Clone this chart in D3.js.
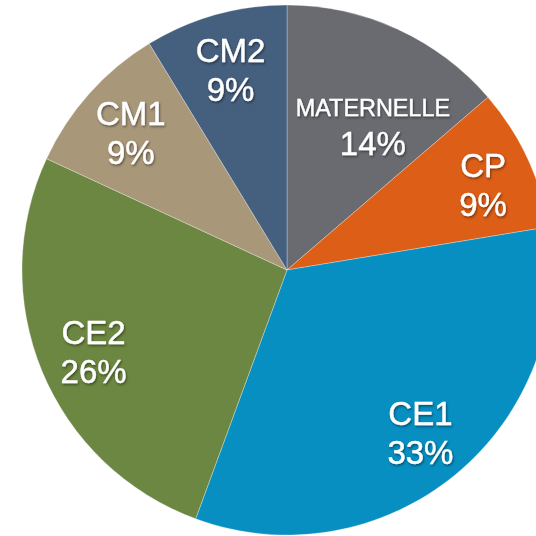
<!DOCTYPE html>
<html>
<head>
<meta charset="utf-8">
<script src="https://cdn.jsdelivr.net/npm/d3@7"></script>
<style>
  html, body { margin: 0; padding: 0; background: #fff; }
  svg { display: block; }
</style>
</head>
<body>
<div id="chart"></div>
<script>
// niveaux, parts (%)
const levels = ['MATERNELLE', 'CP', 'CE1', 'CE2', 'CM1', 'CM2'];
const shares = [13.7, 8.7, 33.2, 26.3, 9.4, 8.7];
const colors = ['#6a6b70', '#dc5e17', '#078fc2', '#6c8741', '#a99779', '#455f7e'];

const width = 536;
const height = 536;
const cx = 287, cy = 270;
const radius = 265;

const data = levels.map((name, i) => ({ name, value: shares[i] }));

const svg = d3.select('#chart')
  .append('svg')
  .attr('width', width)
  .attr('height', height)
  .attr('viewBox', [0, 0, width, height]);

const defs = svg.append('defs');
const shadow = defs.append('filter')
  .attr('id', 'shadow')
  .attr('x', '-20%').attr('y', '-20%')
  .attr('width', '140%').attr('height', '140%');
shadow.append('feDropShadow')
  .attr('dx', 1).attr('dy', 1.5)
  .attr('stdDeviation', 1)
  .attr('flood-color', '#000')
  .attr('flood-opacity', 0.45);

const pie = d3.pie()
  .sort(null)
  .value(d => d.value);

const arc = d3.arc()
  .innerRadius(0)
  .outerRadius(radius);

const arcs = pie(data);

const g = svg.append('g')
  .attr('transform', `translate(${cx},${cy})`);

g.selectAll('path')
  .data(arcs)
  .join('path')
    .attr('d', arc)
    .attr('fill', (d, i) => colors[i])
    .attr('stroke', 'rgba(255,255,255,0.5)')
    .attr('stroke-width', 0.6);

// label placement, excel-like: along bisector at ~0.79 R
const labelR = 0.79 * radius;
const tweak = { MATERNELLE: { r: 0.645 * radius, da: 5.5 }, CP: { r: 0.81 * radius, da: 1 } };

const labels = g.append('g')
  .attr('fill', '#fff')
  .attr('stroke', '#fff')
  .attr('stroke-width', 0.4)
  .attr('font-family', '"Liberation Sans", Arial, sans-serif')
  .attr('text-anchor', 'middle')
  .attr('filter', 'url(#shadow)')
  .selectAll('g')
  .data(arcs)
  .join('g')
    .attr('transform', d => {
      const t = tweak[d.data.name] || {};
      const a = (d.startAngle + d.endAngle) / 2 + (t.da || 0) * Math.PI / 180;
      const r = t.r || labelR;
      return `translate(${r * Math.sin(a)},${-r * Math.cos(a)})`;
    });

labels.append('text')
  .attr('y', -6)
  .attr('font-size', d => d.data.name.length > 4 ? 23.4 : 33)
  .text(d => d.data.name);

labels.append('text')
  .attr('y', 33)
  .attr('font-size', 33)
  .text(d => Math.round(d.data.value) + '%');
</script>
</body>
</html>
